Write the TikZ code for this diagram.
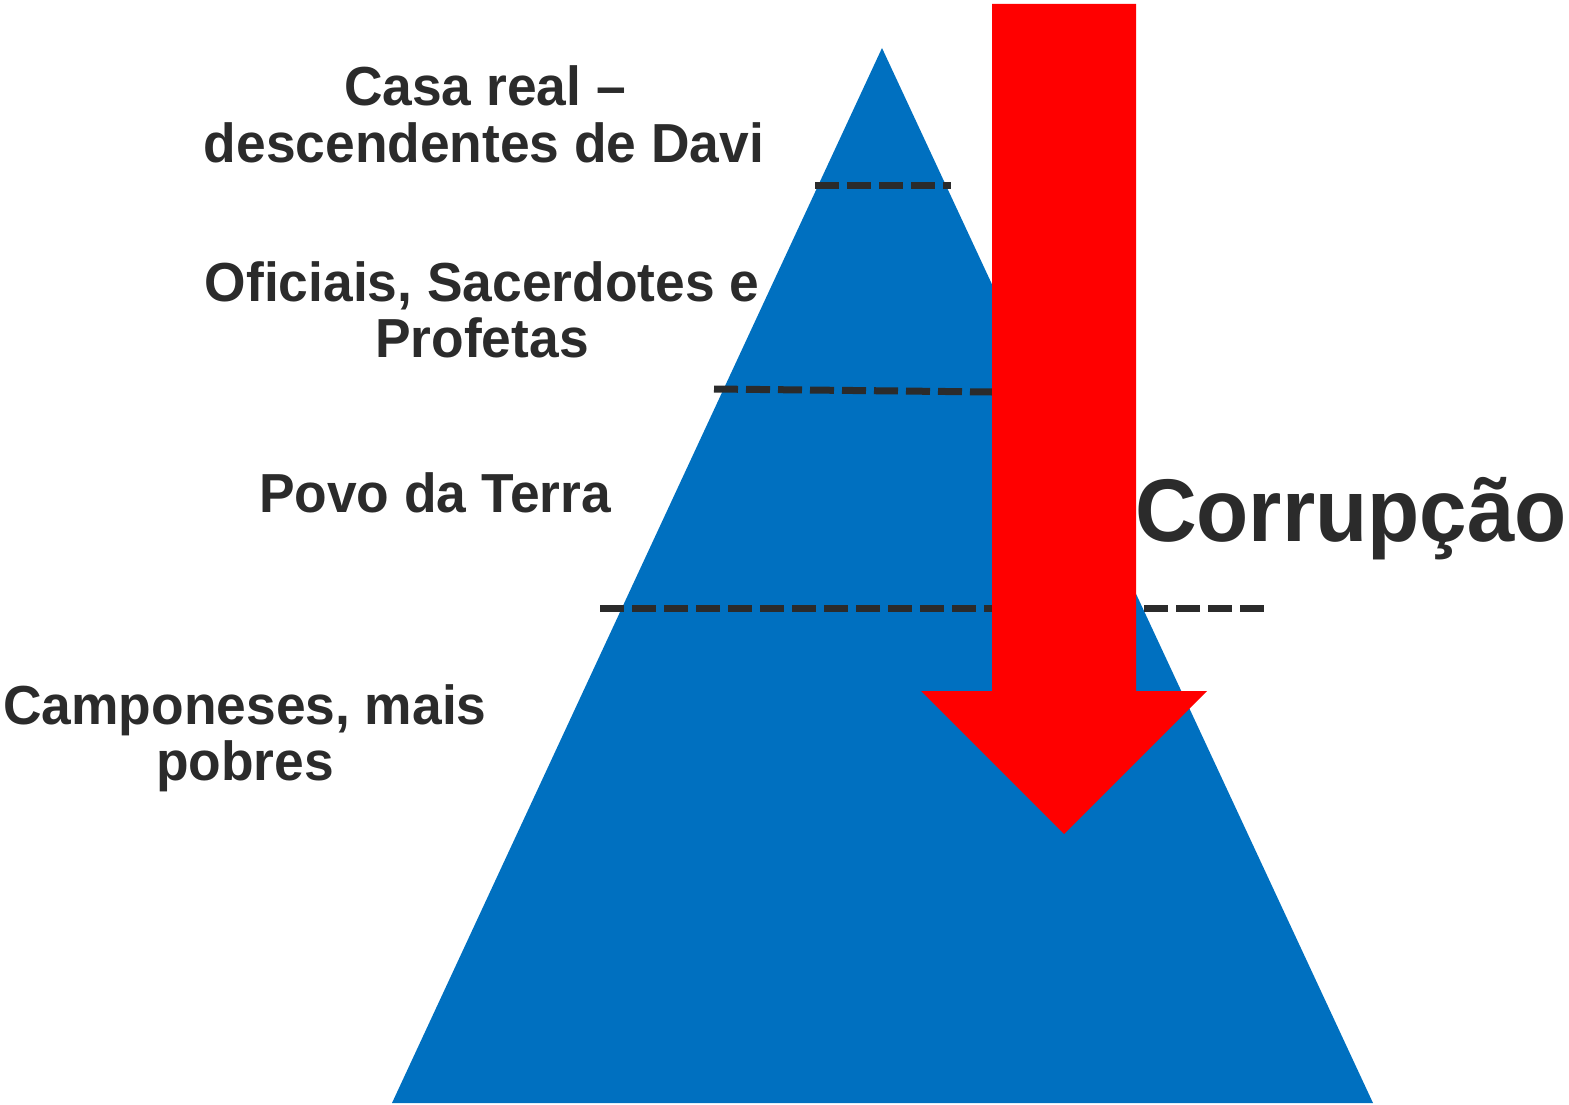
\documentclass[tikz,border=0pt]{standalone}
\usepackage{fontspec}
\setmainfont{Liberation Sans}
\definecolor{pyrblue}{HTML}{0070C0}
\definecolor{txtgray}{HTML}{2B2B2B}
\definecolor{arrred}{HTML}{FF0000}
\tikzset{
  lbl/.style={font=\fontsize{55}{55}\selectfont\bfseries, text=txtgray, anchor=base, inner sep=0pt},
  big/.style={font=\fontsize{89}{89}\selectfont\bfseries, text=txtgray, anchor=base, inner sep=0pt},
  divider/.style={draw=txtgray, line width=7pt, dash pattern=on 24pt off 8pt}
}
\newcommand{\sq}[1]{\scalebox{0.97}[1]{#1}}
\newcommand{\sqb}[1]{\scalebox{0.96}[1]{#1}}
\begin{document}
\begin{tikzpicture}[x=1pt,y=-1pt]
\useasboundingbox (0,0) rectangle (1569,1105);
% pyramid
\fill[pyrblue] (882,48) -- (1373,1103) -- (392,1103) -- cycle;
% dividers
\coordinate (d1a) at (815,185); \coordinate (d1b) at (951,185);
\coordinate (d2a) at (714,389); \coordinate (d2b) at (992,392);
\coordinate (d3a) at (600,608); \coordinate (d3b) at (1264,608);
\draw[divider] (d1a) -- (d1b);
\draw[divider] (d2a) -- (d2b);
\draw[divider] (d3a) -- (d3b);
% arrow
\fill[arrred] (992,4) -- (1136,4) -- (1136,691) -- (1207,691) -- (1064,834) -- (921,691) -- (992,691) -- cycle;
% labels
\node[lbl] (casa1) at (485,106) {\sq{Casa real –}};
\node[lbl] (casa2) at (484,162) {\sq{descendentes de Davi}};
\node[lbl] (ofic1) at (482,301) {\sq{Oficiais, Sacerdotes e}};
\node[lbl] (ofic2) at (482,357) {\sq{Profetas}};
\node[lbl] (povo) at (435,512) {\sq{Povo da Terra}};
\node[lbl] (camp1) at (245,724) {\sq{Camponeses, mais}};
\node[lbl] (camp2) at (245,780) {\sq{pobres}};
\node[big] (corr) at (1351,541) {\sqb{Corrupção}};
\end{tikzpicture}
\end{document}
